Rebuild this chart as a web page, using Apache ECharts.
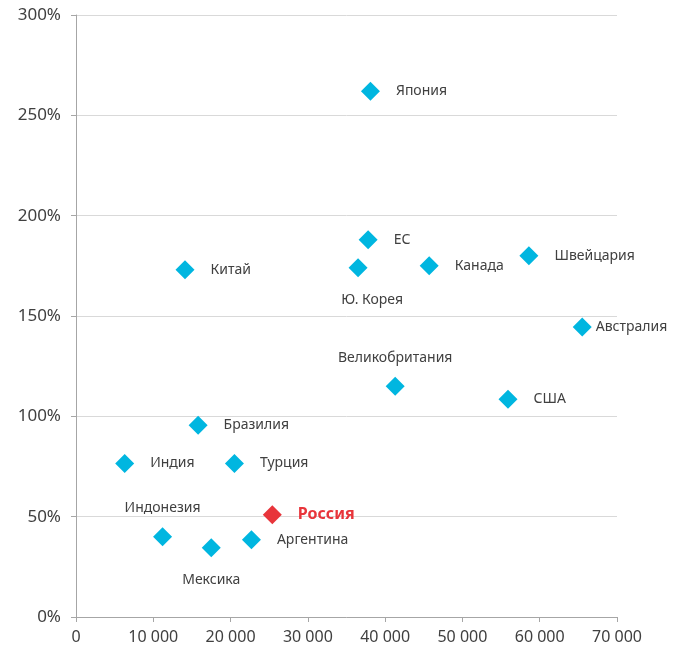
<!DOCTYPE html>
<html>
<head>
<meta charset="utf-8">
<script src="https://cdn.jsdelivr.net/npm/echarts@6/dist/echarts.min.js"></script>
<style>
html,body{margin:0;padding:0;background:#fff;}
#c{width:685px;height:653px;}
</style>
</head>
<body>
<div id="c"></div>
<script>
const countries = ['Япония','ЕС','Ю. Корея','Канада','Швейцария','Китай','Австралия','Великобритания','США','Бразилия','Индия','Турция','Индонезия','Мексика','Аргентина','Россия'];
const gdpPerCapita = [38100, 37800, 36500, 45700, 58600, 14100, 65500, 41300, 55900, 15800, 6300, 20500, 11200, 17500, 22700, 25400];
const ratioPct = [262, 188, 174, 175, 180, 173, 144.5, 115, 108.5, 95.5, 76.5, 76.5, 40, 34.5, 38.5, 51];
const labelPlacement = ['right','right','bottom','right','right','right','rightNear','top','right','right','right','right','top','bottom','right','right'];
const highlight = 'Россия';

const FONT = '"Noto Sans", "Open Sans", sans-serif';
const TXT = '#404040';

function labelFor(p, isHi){
  const base = {show:true, formatter:'{b}', fontFamily:FONT, fontSize:14, color:TXT};
  if (p==='right') Object.assign(base,{position:'right', distance:16});
  else if (p==='rightNear') Object.assign(base,{position:'right', distance:4});
  else if (p==='top') Object.assign(base,{position:'top', distance:12});
  else if (p==='bottom') Object.assign(base,{position:'bottom', distance:16});
  if (isHi) Object.assign(base,{color:'#e8353b', fontWeight:'bold', fontSize:16});
  return base;
}

const data = countries.map((n,i)=>{
  const hi = n===highlight;
  const d = {name:n, value:[gdpPerCapita[i], ratioPct[i]], label:labelFor(labelPlacement[i], hi)};
  if (n==='Ю. Корея') d.label.offset=[14,0];
  if (hi) d.itemStyle={color:'#e8353b', opacity:1};
  return d;
});

const chart = echarts.init(document.getElementById('c'), null, {renderer:'canvas'});
chart.setOption({
  animation:false,
  grid:{left:76, right:68, top:15, bottom:36, containLabel:false},
  xAxis:{
    type:'value', min:0, max:70000, interval:10000,
    axisLine:{show:true, lineStyle:{color:'#a6a6a6', width:1}},
    axisTick:{show:true, length:5, lineStyle:{color:'#a6a6a6'}},
    splitLine:{show:false},
    axisLabel:{fontFamily:FONT, fontSize:16, color:TXT, margin:12,
      formatter:v=>v===0?'0':String(v).replace(/\B(?=(\d{3})+(?!\d))/g,' ')}
  },
  yAxis:{
    type:'value', min:0, max:300, interval:50,
    axisLine:{show:true, lineStyle:{color:'#a6a6a6', width:1}},
    axisTick:{show:true, length:5, lineStyle:{color:'#a6a6a6'}},
    splitLine:{show:true, lineStyle:{color:'#d9d9d9', width:1}},
    axisLabel:{fontFamily:FONT, fontSize:17, color:TXT, margin:15, formatter:'{value}%'}
  },
  series:[{
    type:'scatter',
    symbol:'diamond',
    symbolSize:19,
    itemStyle:{color:'#00b6e0', opacity:1},
    data:data
  }]
});
</script>
</body>
</html>
